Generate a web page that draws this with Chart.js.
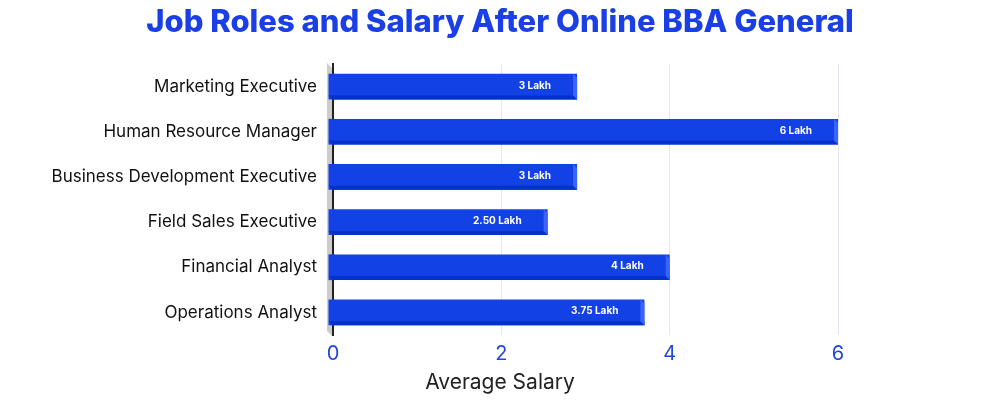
<!DOCTYPE html>
<html>
<head>
<meta charset="utf-8">
<script src="https://cdn.jsdelivr.net/npm/chart.js@4"></script>
<style>
	html, body { margin: 0; padding: 0; background: #fff; }
	#wrap { width: 1000px; height: 404px; }
</style>
</head>
<body>
<div id="wrap"><canvas id="chart"></canvas></div>
<script>
const roles = ['Marketing Executive', 'Human Resource Manager', 'Business Development Executive', 'Field Sales Executive', 'Financial Analyst', 'Operations Analyst']
const salaries = [2.9, 6, 2.9, 2.55, 4, 3.7]
const salaryLabels = ['3 Lakh', '6 Lakh', '3 Lakh', '2.50 Lakh', '4 Lakh', '3.75 Lakh']
const xTicks = [0, 2, 4, 6]
const chartTitle = 'Job Roles and Salary After Online BBA General'
const xTitle = 'Average Salary'

const FONT = 'Inter, "Open Sans", sans-serif'
const FACE = '#1241e6'

// fake 3d look: grey wall behind the axis, dark bottom edge and light right edge on every bar
// title and axis title are drawn here so they sit centred on the whole canvas
const bars3d = {
	id: 'bars3d',
	beforeDatasetsDraw(chart) {
		const { ctx, chartArea } = chart
		const l = chartArea.left
		ctx.save()
		ctx.fillStyle = '#cccccc'
		ctx.beginPath()
		ctx.moveTo(l - 6, chartArea.top - 1)
		ctx.lineTo(l - 1, chartArea.top + 4)
		ctx.lineTo(l - 1, chartArea.bottom + 1)
		ctx.lineTo(l - 6, chartArea.bottom - 4)
		ctx.closePath()
		ctx.fill()
		ctx.restore()
	},
	afterDatasetsDraw(chart) {
		const { ctx } = chart
		const meta = chart.getDatasetMeta(0)
		ctx.save()
		meta.data.forEach((bar, i) => {
			const p = bar.getProps(['x', 'y', 'base', 'height'], true)
			const top = p.y - p.height / 2
			const bottom = p.y + p.height / 2
			ctx.fillStyle = FACE
			ctx.fillRect(p.base - 5, top, 6, p.height)
			ctx.fillStyle = '#0331cc'
			ctx.beginPath()
			ctx.moveTo(p.base - 5, bottom - 4)
			ctx.lineTo(p.x, bottom - 4)
			ctx.lineTo(p.x, bottom)
			ctx.lineTo(p.base - 1, bottom)
			ctx.closePath()
			ctx.fill()
			ctx.fillStyle = '#3a63ff'
			ctx.beginPath()
			ctx.moveTo(p.x - 4, top)
			ctx.lineTo(p.x, top + 4)
			ctx.lineTo(p.x, bottom)
			ctx.lineTo(p.x - 4, bottom - 4)
			ctx.closePath()
			ctx.fill()

			ctx.fillStyle = '#ffffff'
			ctx.font = 'bold 10px ' + FONT
			ctx.textAlign = 'right'
			ctx.textBaseline = 'middle'
			ctx.fillText(salaryLabels[i], p.x - 26, p.y - 1)
		})
		ctx.restore()
	},
	afterDraw(chart) {
		const { ctx, width, height } = chart
		ctx.save()
		ctx.textAlign = 'center'
		ctx.textBaseline = 'middle'
		ctx.fillStyle = '#1a3fe6'
		ctx.font = '800 31px ' + FONT
		ctx.fillText(chartTitle, width / 2, 23)
		ctx.fillStyle = '#222'
		ctx.font = '21px ' + FONT
		ctx.fillText(xTitle, width / 2, height - 21)
		ctx.restore()
	},
}

new Chart(document.getElementById('chart'), {
	type: 'bar',
	data: {
		labels: roles,
		datasets: [
			{
				label: xTitle,
				data: salaries,
				backgroundColor: FACE,
				borderWidth: 0,
				categoryPercentage: 1,
				barPercentage: 0.57,
			},
		],
	},
	options: {
		indexAxis: 'y',
		responsive: true,
		maintainAspectRatio: false,
		animation: false,
		layout: { padding: { left: 0, right: 162, top: 64, bottom: 0 } },
		plugins: {
			legend: { display: false },
			tooltip: { enabled: false },
			title: { display: false },
		},
		scales: {
			x: {
				min: 0,
				max: 6,
				afterBuildTicks: (scale) => {
					scale.ticks = xTicks.map((v) => ({ value: v }))
				},
				afterFit: (scale) => {
					scale.height = 69
				},
				grid: { color: '#e2e7f5', drawTicks: false },
				border: { display: false },
				ticks: {
					color: '#2247dc',
					font: { family: FONT, size: 20 },
					padding: 7,
				},
			},
			y: {
				afterFit: (scale) => {
					scale.width = 333
				},
				grid: { display: false },
				border: { display: true, color: '#222', width: 2 },
				ticks: {
					color: '#111',
					font: { family: FONT, size: 17 },
					padding: 8,
				},
			},
		},
	},
	plugins: [bars3d],
})
</script>
</body>
</html>
